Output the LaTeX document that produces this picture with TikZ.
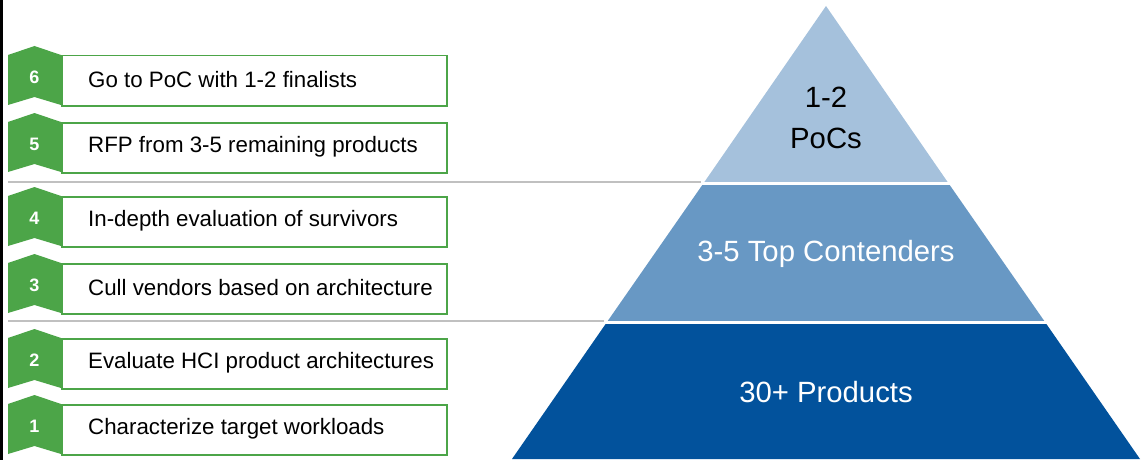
\documentclass[tikz,border=0pt]{standalone}
\usepackage{fontspec}
\setmainfont{Liberation Sans}
\definecolor{stepgreen}{RGB}{76,165,72}
\definecolor{tierlight}{RGB}{165,193,220}
\definecolor{tiermid}{RGB}{104,152,196}
\definecolor{tierdark}{RGB}{2,82,156}
\definecolor{sepgrey}{RGB}{192,192,192}
\tikzset{
  stepbox/.style={draw=stepgreen, line width=1.5pt, minimum width=385pt, minimum height=50pt, anchor=north west, inner sep=0pt},
  steptext/.style={anchor=west, inner sep=0pt, font=\fontsize{22.3}{26}\selectfont},
  stepnum/.style={text=white, inner sep=0pt, font=\fontsize{18}{20}\selectfont\bfseries},
  tierlabel/.style={align=center, inner sep=0pt, font=\fontsize{29.3}{41}\selectfont},
  sepline/.style={draw=sepgrey, line width=2.5pt}
}
\begin{document}
\begin{tikzpicture}[x=1pt,y=-1pt]
    \useasboundingbox (0,0) rectangle (1144,460);
    \draw [line width=3pt] (1.5,0) -- (1.5,460);
    % pyramid
    \fill [tierlight] (826,6) -- (949,184) -- (703,184) -- cycle;
    \fill [tiermid] (703,184) -- (949,184) -- (1045,322) -- (607,322) -- cycle;
    \fill [tierdark] (607,322) -- (1045,322) -- (1140,459) -- (512,459) -- cycle;
    \draw [white, line width=2.5pt] (690,183.5) -- (960,183.5);
    \draw [white, line width=2.5pt] (595,322.5) -- (1060,322.5);
    \node [tierlabel] (tier1) at (826,118) {1-2\\PoCs};
    \node [tierlabel, text=white] (tier2) at (826,254) {3-5 Top Contenders};
    \node [tierlabel, text=white] (tier3) at (826,392) {30+ Products};
    % separators
    \draw [sepline] (8,182) -- (701,182);
    \draw [sepline] (8,321) -- (604,321);
    % step 6
    \fill [stepgreen] (8,55) -- (34.5,46) -- (61,55) -- (61,105) -- (34.5,97) -- (8,105) -- cycle;
    \node [stepbox] (box6) at (61,55) {};
    \node [stepnum] (num6) at (34.5,77) {6};
    \node [steptext] (txt6) at (88,80) {Go to PoC with 1-2 finalists};
    % step 5
    \fill [stepgreen] (8,122) -- (34.5,113) -- (61,122) -- (61,172) -- (34.5,164) -- (8,172) -- cycle;
    \node [stepbox] (box5) at (61,122) {};
    \node [stepnum] (num5) at (34.5,144) {5};
    \node [steptext] (txt5) at (88,147) {RFP from 3-5 remaining products};
    % step 4
    \fill [stepgreen] (8,196) -- (34.5,187) -- (61,196) -- (61,246) -- (34.5,238) -- (8,246) -- cycle;
    \node [stepbox] (box4) at (61,196) {};
    \node [stepnum] (num4) at (34.5,218) {4};
    \node [steptext] (txt4) at (88,221) {In-depth evaluation of survivors};
    % step 3
    \fill [stepgreen] (8,263) -- (34.5,254) -- (61,263) -- (61,313) -- (34.5,305) -- (8,313) -- cycle;
    \node [stepbox] (box3) at (61,263) {};
    \node [stepnum] (num3) at (34.5,285) {3};
    \node [steptext] (txt3) at (88,288) {Cull vendors based on architecture};
    % step 2
    \fill [stepgreen] (8,338) -- (34.5,329) -- (61,338) -- (61,388) -- (34.5,380) -- (8,388) -- cycle;
    \node [stepbox] (box2) at (61,338) {};
    \node [stepnum] (num2) at (34.5,360) {2};
    \node [steptext] (txt2) at (88,363) {Evaluate HCI product architectures};
    % step 1
    \fill [stepgreen] (8,404) -- (34.5,395) -- (61,404) -- (61,454) -- (34.5,446) -- (8,454) -- cycle;
    \node [stepbox] (box1) at (61,404) {};
    \node [stepnum] (num1) at (34.5,426) {1};
    \node [steptext] (txt1) at (88,429) {Characterize target workloads};
\end{tikzpicture}
\end{document}
